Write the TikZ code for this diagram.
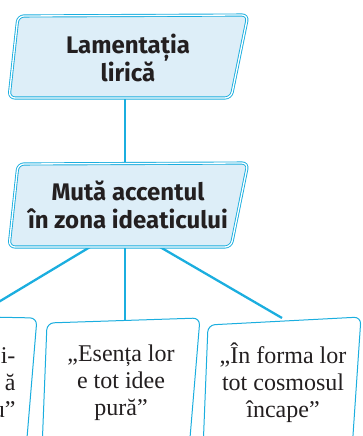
\documentclass[tikz,border=0pt]{standalone}
\usepackage{fontspec}
\setmainfont{Liberation Serif}
\setsansfont{Fira Sans}
\usepackage{tikz}
\usetikzlibrary{backgrounds}

\definecolor{linkblue}{HTML}{1BAEDF}
\definecolor{boxfill}{HTML}{DDEEF8}
\definecolor{inkgray}{HTML}{231F20}

\begin{document}
\begin{tikzpicture}[x=1pt, y=-1pt,
                title/.style={font=\sffamily\bfseries\fontsize{24}{28}\selectfont, text=inkgray, align=center}, % bold sans titles
                quote/.style={font=\fontsize{24}{27}\selectfont, text=inkgray, align=center}, % serif quotes
                frame/.style={draw=linkblue, line width=0.9pt, double=white, double distance=1.3pt, fill=boxfill, rounded corners=6pt}, % double border
                card/.style={draw=linkblue, line width=1pt, fill=white, rounded corners=7pt},
                link/.style={draw=linkblue, line width=2.3pt}
                ]
                \useasboundingbox (0,0) rectangle (362,436);
                \clip (0,0) rectangle (362,436);
                % boxes
                \draw[frame] (18,16) -- (248,15) -- (231,98) -- (9,98) -- cycle;
                \draw[frame] (18,164) -- (248,163) -- (231,247) -- (9,247) -- cycle;
                \draw[card] (-12,317) -- (37,318) -- (26,450);
                \draw[card] (42,450) -- (47,323) -- (200,318) -- (189,450);
                \draw[card] (203,450) -- (208,325) -- (361,317) -- (352,450);
                % texts
                \node[title] (lament) at (128,58) {Lamentația\\lirică};
                \node[title] (muta) at (128,205) {Mută accentul\\în zona ideaticului};
                \node[quote, align=right, anchor=east] (stanga) at (19,383) {i-\hspace{5pt}\\ă\hspace{6pt}\\u”};
                \node[quote] (esenta) at (121,383) {„Esența lor\\e tot idee\\pură”};
                \node[quote] (forma) at (283,383) {„În forma lor\\tot cosmosul\\încape”};
                % connectors
                \coordinate (muta sw) at (90,247);
                \coordinate (muta se) at (160,247);
                \coordinate (stanga top) at (-28,318);
                \coordinate (forma top) at (282,318);
                \begin{scope}[on background layer]
                \draw[link] ([xshift=-3pt]lament.center) -- ([xshift=-3pt]muta.center);
                \draw[link] ([xshift=-3pt]muta.center) -- ([xshift=-3pt]muta.center |- esenta.center);
                \draw[link] (muta sw) -- (stanga top);
                \draw[link] (muta se) -- (forma top);
                \end{scope}
            \end{tikzpicture}
\end{document}
